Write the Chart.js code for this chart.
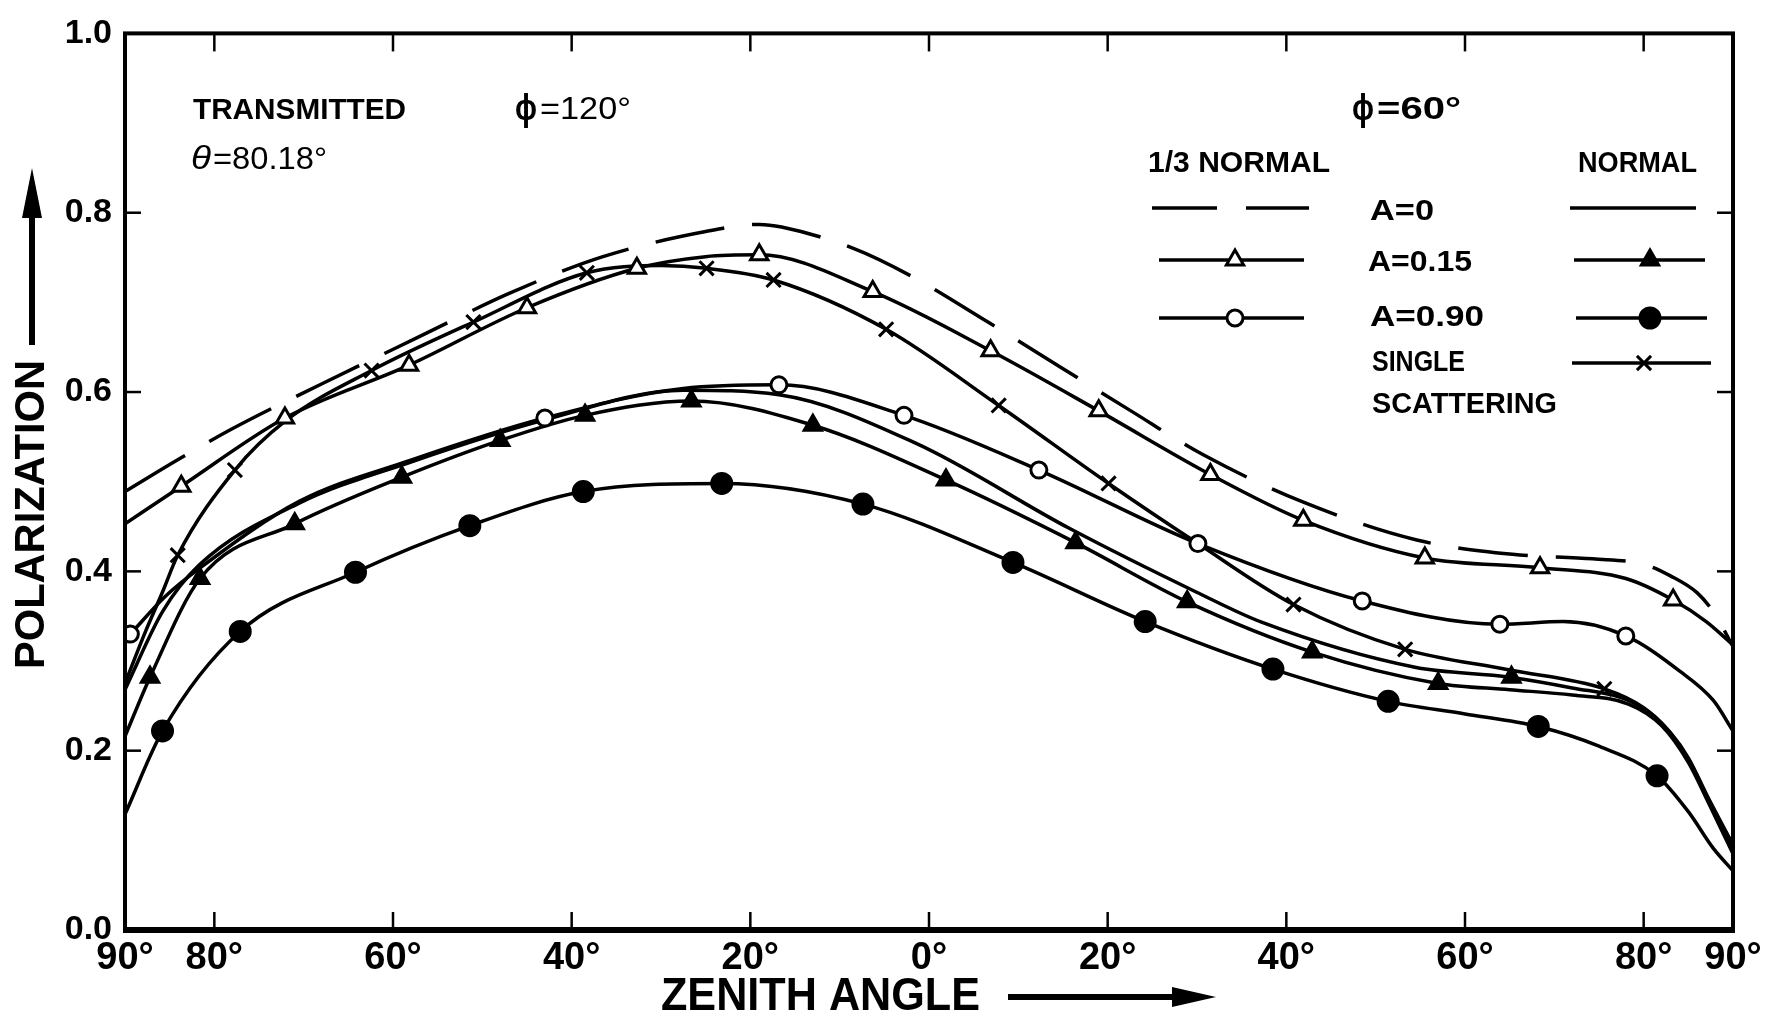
<!DOCTYPE html>
<html>
<head>
<meta charset="utf-8">
<script src="https://cdn.jsdelivr.net/npm/chart.js@4/dist/chart.umd.min.js"></script>
<style>
  html, body { margin: 0; padding: 0; background: #fff; }
  #wrap { width: 1782px; height: 1020px; position: relative; }
</style>
</head>
<body>
<div id="wrap"><canvas id="chart"></canvas></div>
<script>
// axis ticks (zenith angle runs 90 -> 0 -> 90, left half stored as negative)
const xTickValues = [-90, -80, -60, -40, -20, 0, 20, 40, 60, 80, 90];
const yTickValues = [0, 0.2, 0.4, 0.6, 0.8, 1.0];

// 1/3 normal aerosol, A = 0 (dashed)
const thirdA0 = [[-90,0.489],[-84,0.525],[-78,0.559],[-68,0.609],[-57,0.662],[-47,0.710],[-36.5,0.751],[-25,0.779],[-19,0.787],[-16.5,0.784],[-8.4,0.760],[-2.3,0.731],[6.6,0.678],[15,0.626],[22.6,0.579],[30.7,0.530],[41.7,0.478],[54.6,0.435],[65.3,0.419],[74.3,0.414],[80,0.408],[83,0.395],[86,0.376],[88,0.352],[90,0.316]];

// 1/3 normal aerosol, A = 0.15 (open triangles)
const thirdA15 = [[-90,0.453],[-83.7,0.495],[-72.1,0.571],[-58.2,0.630],[-45,0.694],[-32.7,0.738],[-25,0.751],[-19,0.753],[-6.3,0.712],[6.9,0.646],[19,0.579],[31.5,0.508],[41.9,0.457],[55.5,0.415],[68.4,0.404],[78,0.392],[83.3,0.368],[87,0.344],[90,0.318]];
const thirdA15Marks = [[-83.7,0.495],[-72.1,0.571],[-58.2,0.630],[-45,0.694],[-32.7,0.738],[-19,0.753],[-6.3,0.712],[6.9,0.646],[19,0.579],[31.5,0.508],[41.9,0.457],[55.5,0.415],[68.4,0.404],[83.3,0.368]];

// 1/3 normal aerosol, A = 0.90 (open circles)
const thirdA90 = [[-89.4,0.330],[-85.5,0.372],[-81.7,0.403],[-70.5,0.478],[-58,0.524],[-43,0.571],[-27.5,0.604],[-16.8,0.608],[-2.8,0.574],[12.3,0.513],[30.1,0.431],[48.5,0.367],[63.9,0.341],[71,0.344],[78,0.328],[84,0.289],[87.8,0.256],[90,0.222]];
const thirdA90Marks = [[-89.4,0.330],[-43,0.571],[-16.8,0.608],[-2.8,0.574],[12.3,0.513],[30.1,0.431],[48.5,0.367],[63.9,0.341],[78,0.328]];

// normal aerosol, A = 0 (plain line)
const normA0 = [[-90,0.268],[-85.8,0.355],[-81.7,0.407],[-70.5,0.476],[-58,0.522],[-43,0.569],[-27.5,0.602],[-16.8,0.597],[-1.5,0.543],[15.7,0.448],[29.9,0.377],[37.3,0.343],[54.4,0.293],[65,0.282],[72,0.270],[78.3,0.256],[82,0.231],[85,0.190],[87.2,0.146],[90,0.090]];

// normal aerosol, A = 0.15 (filled triangles)
const normA15 = [[-90,0.216],[-87.2,0.282],[-81.6,0.392],[-71,0.453],[-59,0.505],[-48,0.546],[-38.5,0.574],[-26.6,0.590],[-13,0.563],[1.9,0.502],[16.4,0.432],[28.9,0.366],[42.9,0.310],[57,0.275],[65,0.268],[72,0.262],[78.3,0.252],[82,0.228],[85,0.187],[87.2,0.143],[90,0.085]];
const normA15Marks = [[-87.2,0.282],[-81.6,0.392],[-71,0.453],[-59,0.505],[-48,0.546],[-38.5,0.574],[-26.6,0.590],[-13,0.563],[1.9,0.502],[16.4,0.432],[28.9,0.366],[42.9,0.310],[57,0.275],[65.2,0.282]];

// normal aerosol, A = 0.90 (filled circles)
const normA90 = [[-90,0.129],[-85.8,0.222],[-77.1,0.333],[-64.2,0.399],[-51.4,0.451],[-38.7,0.489],[-23.2,0.498],[-7.4,0.475],[9.4,0.410],[24.2,0.344],[38.5,0.291],[51.4,0.255],[60,0.241],[68.2,0.227],[75,0.205],[81.5,0.172],[85,0.132],[87.8,0.091],[90,0.066]];
const normA90Marks = [[-85.8,0.222],[-77.1,0.333],[-64.2,0.399],[-51.4,0.451],[-38.7,0.489],[-23.2,0.498],[-7.4,0.475],[9.4,0.410],[24.2,0.344],[38.5,0.291],[51.4,0.255],[68.2,0.227],[81.5,0.172]];

// single scattering (crosses)
const single = [[-90,0.275],[-87.7,0.333],[-85.8,0.377],[-84.1,0.418],[-77.7,0.513],[-72,0.568],[-62.4,0.624],[-51,0.678],[-38.3,0.733],[-30,0.741],[-24.9,0.738],[-17.4,0.725],[-4.8,0.670],[7.8,0.585],[20.1,0.498],[30.1,0.431],[40.8,0.363],[53.3,0.313],[65,0.290],[75.6,0.269],[80,0.248],[83,0.220],[85,0.192],[87.2,0.148],[90,0.095]];
const singleMarks = [[-84.1,0.418],[-77.7,0.513],[-62.4,0.624],[-51,0.678],[-38.3,0.733],[-24.9,0.738],[-17.4,0.725],[-4.8,0.670],[7.8,0.585],[20.1,0.498],[40.8,0.363],[53.3,0.313],[75.6,0.269]];

const FONT = '"Liberation Sans", Arial, sans-serif';
const INK = '#000';

function pts(arr) {
    return arr.map(p => ({ x: p[0], y: p[1] }));
}

function curve(data, dash) {
    return {
        data: pts(data),
        showLine: true,
        pointRadius: 0,
        borderColor: INK,
        borderWidth: 3.5,
        borderDash: dash || [],
        cubicInterpolationMode: 'monotone',
        fill: false,
        order: 1
    };
}

function marks(data, style, radius, filled) {
    return {
        data: pts(data),
        showLine: false,
        pointStyle: style,
        pointRadius: radius,
        pointBorderWidth: 3,
        pointBorderColor: INK,
        pointBackgroundColor: filled ? INK : '#fff',
        borderColor: INK,
        backgroundColor: filled ? INK : '#fff',
        order: 0
    };
}

// squeeze/stretch text horizontally so it spans the given width
function fitText(ctx, text, left, cy, width, font) {
    ctx.font = font;
    const w = ctx.measureText(text).width;
    ctx.save();
    ctx.translate(left, cy);
    ctx.scale(width / w, 1);
    ctx.textAlign = 'left';
    ctx.textBaseline = 'middle';
    ctx.fillText(text, 0, 0);
    ctx.restore();
}

function seg(ctx, x1, y1, x2, y2) {
    ctx.beginPath();
    ctx.moveTo(x1, y1);
    ctx.lineTo(x2, y2);
    ctx.stroke();
}

function marker(ctx, style, radius, filled, x, y) {
    ctx.save();
    ctx.fillStyle = filled ? INK : '#fff';
    ctx.strokeStyle = INK;
    ctx.lineWidth = 3;
    Chart.helpers.drawPoint(ctx, { pointStyle: style, radius: radius, rotation: 0, borderWidth: 3 }, x, y);
    ctx.restore();
}

const decorations = {
    id: 'decorations',
    afterDraw(chart) {
        const { ctx, chartArea: a, scales } = chart;
        const x = scales.x, y = scales.y;
        ctx.save();
        ctx.strokeStyle = INK;
        ctx.fillStyle = INK;

        // frame
        ctx.lineWidth = 4;
        ctx.strokeRect(a.left, a.top, a.right - a.left, a.bottom - a.top);
        ctx.lineWidth = 6;
        seg(ctx, a.left - 2, a.bottom, a.right + 2, a.bottom);

        // inward tick marks on all four sides
        ctx.lineWidth = 2.5;
        xTickValues.filter(v => Math.abs(v) < 90).forEach(v => {
            const px = x.getPixelForValue(v);
            seg(ctx, px, a.bottom, px, a.bottom - 18);
            seg(ctx, px, a.top, px, a.top + 18);
        });
        yTickValues.filter(v => v > 0 && v < 1).forEach(v => {
            const py = y.getPixelForValue(v);
            seg(ctx, a.left, py, a.left + 16, py);
            seg(ctx, a.right, py, a.right - 16, py);
        });

        // y axis title with arrow
        ctx.save();
        ctx.translate(32, 515);
        ctx.rotate(-Math.PI / 2);
        fitText(ctx, 'POLARIZATION', -154, 0, 309, 'bold 42px ' + FONT);
        ctx.restore();
        ctx.lineWidth = 6;
        seg(ctx, 32, 345, 32, 205);
        ctx.beginPath();
        ctx.moveTo(32, 168);
        ctx.lineTo(22, 218);
        ctx.lineTo(42, 218);
        ctx.closePath();
        ctx.fill();

        // x axis title with arrow
        fitText(ctx, 'ZENITH ANGLE', 661, 997, 319, 'bold 46px ' + FONT);
        seg(ctx, 1008, 997, 1185, 997);
        ctx.beginPath();
        ctx.moveTo(1216, 997);
        ctx.lineTo(1172, 987);
        ctx.lineTo(1172, 1007);
        ctx.closePath();
        ctx.fill();

        // annotations
        fitText(ctx, 'TRANSMITTED', 193, 111, 213, 'bold 30px ' + FONT);
        fitText(ctx, 'θ', 191, 160, 20, 'italic 34px ' + FONT);
        fitText(ctx, '=80.18°', 213, 160, 114, '31px ' + FONT);
        fitText(ctx, 'ϕ', 515, 110, 22, 'bold 36px ' + FONT);
        fitText(ctx, '=120°', 540, 110, 91, '31px ' + FONT);
        fitText(ctx, 'ϕ', 1352, 110, 22, 'bold 36px ' + FONT);
        fitText(ctx, '=60°', 1377, 110, 84, 'bold 31px ' + FONT);

        // legend
        fitText(ctx, '1/3 NORMAL', 1148, 164, 182, 'bold 29px ' + FONT);
        fitText(ctx, 'NORMAL', 1578, 164, 119, 'bold 29px ' + FONT);
        const lab = 'bold 29px ' + FONT;
        fitText(ctx, 'A=0', 1370, 212, 64, lab);
        fitText(ctx, 'A=0.15', 1368, 263, 104, lab);
        fitText(ctx, 'A=0.90', 1370, 318, 114, lab);
        fitText(ctx, 'SINGLE', 1372, 363, 93, lab);
        fitText(ctx, 'SCATTERING', 1372, 405, 185, lab);

        ctx.lineWidth = 3.5;
        seg(ctx, 1152, 208, 1217, 208);
        seg(ctx, 1246, 208, 1309, 208);
        seg(ctx, 1570, 208, 1696, 208);

        seg(ctx, 1159, 260, 1304, 260);
        seg(ctx, 1574, 260, 1705, 260);
        marker(ctx, 'triangle', 10, false, 1235, 260);
        marker(ctx, 'triangle', 10, true, 1650, 260);

        seg(ctx, 1159, 318, 1304, 318);
        seg(ctx, 1576, 318, 1707, 318);
        marker(ctx, 'circle', 8, false, 1235, 318);
        marker(ctx, 'circle', 10, true, 1650, 318);

        seg(ctx, 1572, 363, 1711, 363);
        marker(ctx, 'crossRot', 10, false, 1644, 363);

        ctx.restore();
    }
};

new Chart(document.getElementById('chart'), {
    type: 'scatter',
    data: {
        datasets: [
            curve(thirdA0, [70, 28]),
            curve(thirdA15),
            curve(thirdA90),
            curve(normA0),
            curve(normA15),
            curve(normA90),
            curve(single),
            marks(thirdA15Marks, 'triangle', 10, false),
            marks(thirdA90Marks, 'circle', 8, false),
            marks(normA15Marks, 'triangle', 10, true),
            marks(normA90Marks, 'circle', 10, true),
            marks(singleMarks, 'crossRot', 10, false)
        ]
    },
    options: {
        responsive: true,
        maintainAspectRatio: false,
        animation: false,
        events: [],
        layout: { padding: { top: 17, right: 49, left: 0, bottom: 0 } },
        plugins: {
            legend: { display: false },
            tooltip: { enabled: false }
        },
        scales: {
            x: {
                type: 'linear',
                min: -90,
                max: 90,
                grid: { display: false, drawTicks: false },
                border: { display: false },
                afterBuildTicks: s => { s.ticks = xTickValues.map(v => ({ value: v })); },
                afterFit: s => { s.height = 90; },
                ticks: {
                    autoSkip: false,
                    maxRotation: 0,
                    padding: 6,
                    color: INK,
                    font: { family: FONT, size: 38, weight: 'bold' },
                    callback: v => Math.abs(v) + '°'
                }
            },
            y: {
                type: 'linear',
                min: 0,
                max: 1,
                grid: { display: false, drawTicks: false },
                border: { display: false },
                afterBuildTicks: s => { s.ticks = yTickValues.map(v => ({ value: v })); },
                afterFit: s => { s.width = 125; },
                ticks: {
                    padding: 13,
                    color: INK,
                    font: { family: FONT, size: 34, weight: 'bold' },
                    callback: v => v.toFixed(1)
                }
            }
        }
    },
    plugins: [decorations]
});
</script>
</body>
</html>
